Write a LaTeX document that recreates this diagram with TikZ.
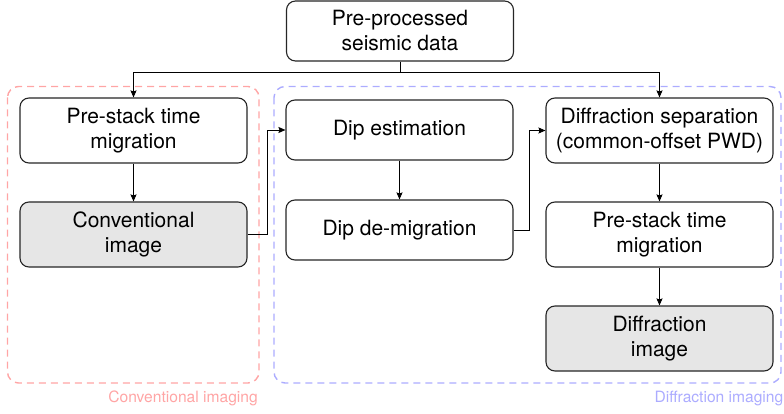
\documentclass[tikz,border=0pt]{standalone}
\usepackage{fontspec}
\setmainfont{TeX Gyre Heros}
\usetikzlibrary{arrows.meta}
\definecolor{convred}{RGB}{255,165,165}
\definecolor{diffblue}{RGB}{172,172,255}
\definecolor{resultgray}{RGB}{230,230,230}
\tikzset{
  procbox/.style={draw=black!85, line width=1.1pt, rounded corners=9pt, fill=white,
    minimum width=227pt, minimum height=60pt, align=center, inner sep=2pt,
    font=\fontsize{21}{25}\selectfont},
  tallbox/.style={procbox, minimum height=65pt},
  resultbox/.style={tallbox, fill=resultgray},
  arr/.style={draw=black, line width=0.9pt, -{Stealth[length=7pt,width=6pt,inset=1pt]}},
  groupframe/.style={line width=1.4pt, dash pattern=on 7pt off 5pt, rounded corners=11pt},
  grouplabel/.style={anchor=east, inner sep=0pt, font=\fontsize{15.6}{18}\selectfont},
}
\begin{document}
\begin{tikzpicture}[x=1pt, y=-1pt]
\useasboundingbox (0,0) rectangle (784,414);

% group frames
\draw[groupframe, convred] (7.5,86.5) rectangle (259,383);
\draw[groupframe, diffblue] (274,86.5) rectangle (781,383);
\node[grouplabel, text=convred] (convlabel) at (258,398) {Conventional imaging};
\node[grouplabel, text=diffblue] (difflabel) at (783.5,398) {Diffraction imaging};

% processing steps
\node[procbox] (top) at (400,31) {Pre-processed\\seismic data};
\node[tallbox] (pstmA) at (133.5,130.5) {Pre-stack time\\migration};
\node[resultbox] (conv) at (133.5,234.5) {Conventional\\image};
\node[procbox] (dipest) at (399.5,130) {Dip estimation};
\node[procbox] (dipdem) at (399.5,230) {Dip de-migration};
\node[tallbox] (dsep) at (659.5,130.5) {Diffraction separation\\(common-offset PWD)};
\node[tallbox] (pstmB) at (659.5,234.5) {Pre-stack time\\migration};
\node[resultbox] (dimg) at (659.5,338.5) {Diffraction\\image};

% connectors
\coordinate (split) at (400,72);
\draw[arr] (top.south) -- (split) -| (pstmA.north);
\draw[arr] (split) -| (dsep.north);
\draw[arr] (pstmA) -- (conv);
\draw[arr] (conv.east) -- ++(19.5,0) |- (dipest.west);
\draw[arr] (dipest) -- (dipdem);
\draw[arr] (dipdem.east) -- ++(15.5,0) |- (dsep.west);
\draw[arr] (dsep) -- (pstmB);
\draw[arr] (pstmB) -- (dimg);
\end{tikzpicture}
\end{document}
